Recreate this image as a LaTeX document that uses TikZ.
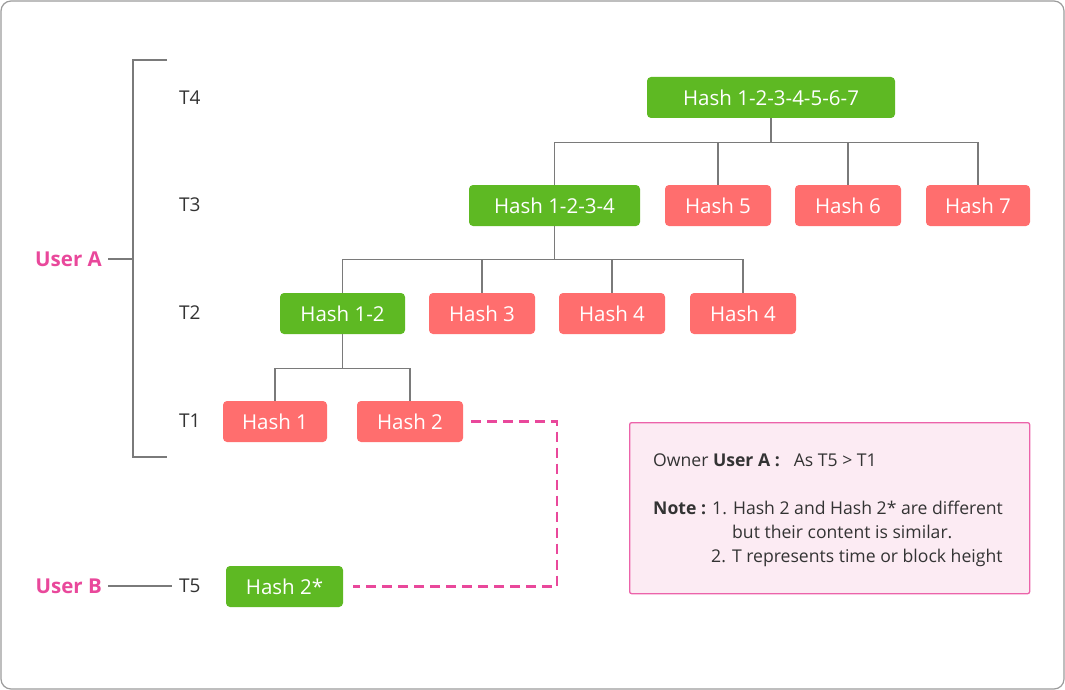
\documentclass[tikz,border=0pt]{standalone}
\usepackage{fontspec}
\setmainfont{Open Sans}
\usetikzlibrary{positioning}

\definecolor{hashgreen}{HTML}{5EB923}
\definecolor{hashred}{HTML}{FF6E6E}
\definecolor{userpink}{HTML}{E9489B}
\definecolor{notefill}{HTML}{FCEBF3}
\definecolor{linegray}{HTML}{7A7A7A}
\definecolor{textdark}{HTML}{333333}

\tikzset{
  hashbox/.style={rounded corners=4pt, minimum height=41pt, inner sep=0pt, text=white, font=\fontsize{20.5}{24}\selectfont},
  goodhash/.style={hashbox, fill=hashgreen},
  badhash/.style={hashbox, fill=hashred, minimum width=106pt},
  tlabel/.style={anchor=west, inner xsep=7pt, text=textdark, font=\fontsize{19}{23}\selectfont},
  userlabel/.style={anchor=east, inner xsep=6pt, text=userpink, font=\bfseries\fontsize{20.5}{24}\selectfont},
  link/.style={draw=linegray, line width=1.3pt},
  dashlink/.style={draw=userpink, line width=2.4pt, dash pattern=on 10pt off 6pt},
  notetext/.style={anchor=base west, inner sep=0pt, text=textdark, font=\fontsize{17.6}{20}\selectfont}
}

\begin{document}
\begin{tikzpicture}[x=1pt, y=-1pt]

% Frame
\useasboundingbox (0,0) rectangle (1065,690);
\draw[draw=linegray!75, line width=1.2pt, rounded corners=10pt] (1,1) rectangle (1064,689);

% Time labels
\node[tlabel] (t4) at (172,98) {T4};
\node[tlabel] (t3) at (172,205) {T3};
\node[tlabel] (t2) at (172,313) {T2};
\node[tlabel] (t1) at (172,421) {T1};
\node[tlabel] (t5) at (172,586) {T5};

% Users
\draw[link] (167,60) -- (133,60) -- (133,457) -- (167,457);
\coordinate (brace) at (133,259);
\node[userlabel] (usera) at (108,259) {User A};
\draw[link] (usera.east) -- (brace);
\node[userlabel] (userb) at (108,586) {User B};
\draw[link] (userb.east) -- (t5.west);

% Hash tree
\node[goodhash, minimum width=248pt] (root) at (771,97.5) {Hash 1-2-3-4-5-6-7};
\node[goodhash, minimum width=171pt] (h1234) at (554.5,205.5) {Hash 1-2-3-4};
\node[badhash] (h5) at (718,205.5) {Hash 5};
\node[badhash] (h6) at (848,205.5) {Hash 6};
\node[badhash, minimum width=104pt] (h7) at (978,205.5) {Hash 7};
\node[goodhash, minimum width=125pt] (h12) at (342.5,313.5) {Hash 1-2};
\node[badhash] (h3) at (482,313.5) {Hash 3};
\node[badhash] (h4) at (612,313.5) {Hash 4};
\node[badhash] (h4b) at (743,313.5) {Hash 4};
\node[badhash, minimum width=104pt] (h1) at (275,421.5) {Hash 1};
\node[badhash] (h2) at (410,421.5) {Hash 2};
\node[goodhash, minimum width=117pt] (h2s) at (284.5,586.5) {Hash 2*};

\draw[link] (root.south) -- ++(0,24) coordinate (bus4);
\foreach \c in {h1234,h5,h6,h7}
  \draw[link] (bus4) -| (\c.north);
\draw[link] (h1234.south) -- ++(0,33) coordinate (bus3);
\foreach \c in {h12,h3,h4,h4b}
  \draw[link] (bus3) -| (\c.north);
\draw[link] (h12.south) -- ++(0,34) coordinate (bus2);
\foreach \c in {h1,h2}
  \draw[link] (bus2) -| (\c.north);

% Same content, different hash
\draw[dashlink, shorten <=8pt, shorten >=10pt] (h2.east) -- ++(94,0) |- (h2s.east);

% Note
\node[draw=userpink!85, fill=notefill, line width=1.3pt, rounded corners=2pt, minimum width=400pt, minimum height=171pt, anchor=north west, inner sep=0pt] (note) at (629,422) {};
\node[notetext] (owner) at (653,466) {Owner \textbf{User A :}\hspace{14pt}As T5 > T1};
\node[notetext] (notehead) at (653,514) {\textbf{Note :}};
\node[notetext] (item1) at (712,514) {1. Hash 2 and Hash 2* are different};
\node[notetext] (item1b) at (732,538) {but their content is similar.};
\node[notetext] (item2) at (711,562) {2. T represents time or block height};

\end{tikzpicture}
\end{document}
